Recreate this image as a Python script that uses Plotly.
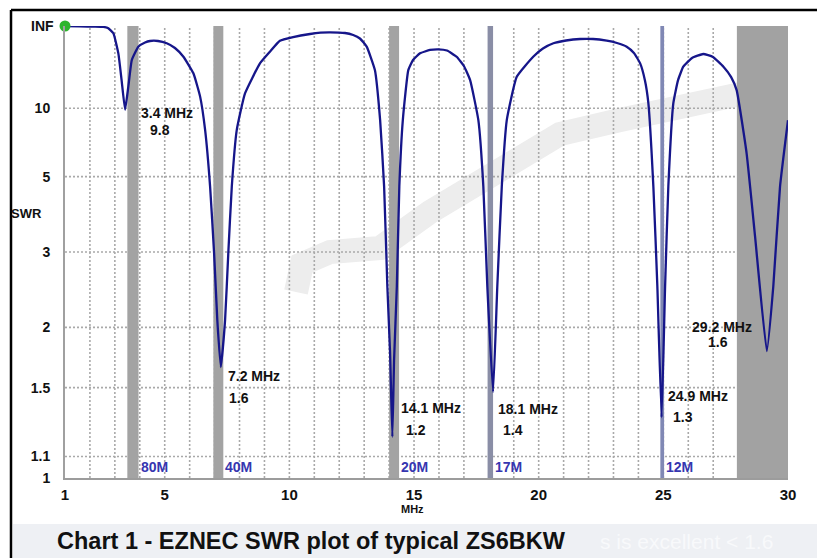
import numpy as np
import plotly.graph_objects as go

# ---------------- data ----------------
freq_mhz = [1.0, 1.6, 2.2, 2.54, 2.72, 2.94, 3.14, 3.27, 3.41, 3.54, 3.68, 3.94, 4.21,
            4.41, 4.73, 5.08, 5.41, 5.75, 6.15, 6.42, 6.62, 6.82, 6.98, 7.11, 7.25,
            7.42, 7.55, 7.69, 7.89, 8.22, 8.82, 9.22, 9.62, 10.15, 10.83, 11.25, 11.63,
            12.23, 12.56, 12.83, 13.10, 13.43, 13.64, 13.80, 13.93, 14.04, 14.13, 14.20,
            14.31, 14.41, 14.55, 14.77, 14.96, 15.24, 15.64, 15.97, 16.32, 16.71, 17.0,
            17.25, 17.58, 17.78, 17.94, 18.17, 18.34, 18.52, 18.72, 19.12, 19.78, 20.17,
            20.59, 21.10, 21.66, 22.18, 22.73, 23.14, 23.53, 23.82, 24.07, 24.26, 24.40,
            24.60, 24.76, 24.93, 25.07, 25.20, 25.40, 25.59, 25.80, 26.15, 26.60, 26.99,
            27.41, 27.72, 27.94, 28.34, 28.68, 29.15, 29.41, 29.68, 30.0]
swr = [float("inf"), 2000, 1500, 1000, 450, 123, 32, 15.7, 9.8, 13.9, 25.6, 42.7, 53.8,
       59.3, 59.3, 51.3, 40.1, 28.4, 18.1, 11.8, 7.7, 4.63, 2.98, 2.07, 1.65,
       2.07, 2.98, 4.63, 7.7, 12.4, 23.2, 34.2, 60, 80, 112, 135, 142,
       128, 99, 71.3, 42.7, 19.5, 8.6, 4.63, 2.47, 1.76, 1.2, 1.71,
       2.47, 4.63, 8.6, 19.5, 25.6, 32.1, 36.7, 37.8, 35.9, 28.4, 21.6,
       15.7, 8.6, 4.63, 2.47, 1.47, 2.47, 4.63, 8.6, 16.8, 28.4, 39.2,
       51.3, 61.3, 68.5, 68.5, 60.5, 52.2, 42.7, 32.5, 23.2, 15.7, 10.7,
       4.63, 2.47, 1.31, 2.47, 4.63, 10.7, 15.7, 21.2, 27.3, 31.3, 28.2,
       21.2, 16.7, 13.1, 6.1, 3.29, 1.78, 2.47, 4.63, 8.6]

# resonance dips and their labels
dip_freq = [3.41, 7.25, 14.13, 18.17, 24.93, 29.15]
dip_swr = [9.8, 1.65, 1.2, 1.47, 1.31, 1.78]
dip_freq_text = ["3.4 MHz", "7.2 MHz", "14.1 MHz", "18.1 MHz", "24.9 MHz", "29.2 MHz"]
dip_swr_text = ["9.8", "1.6", "1.2", "1.4", "1.3", "1.6"]

# amateur bands
band_names = ["80M", "40M", "20M", "17M", "12M", ""]
band_lo = [3.5, 6.95, 14.0, 17.95, 24.88, 27.95]
band_hi = [3.95, 7.35, 14.4, 18.17, 25.03, 30.0]

# axis ticks
swr_ticks = [1, 1.1, 1.5, 2, 3, 5, 10]
swr_tick_text = ["1", "1.1", "1.5", "2", "3", "5", "10"]
x_ticks = [1, 5, 10, 15, 20, 25, 30]
x_grid = list(range(2, 30))          # dotted grid every 1 MHz
swr_grid = [1.1, 1.5, 2, 3, 5, 10]   # dotted horizontal grid


def rho(s):
    s = np.asarray(s, dtype=float)
    return 1.0 - 2.0 / (s + 1.0)


# ---------------- styles ----------------
FONT = "Arial, Liberation Sans, sans-serif"
GRID = "#a9a9a9"
GDASH = "2px,2px"
band_colors = ["#a3a3a3", "#a3a3a3", "#a3a3a3", "#8a8ea6", "#8088b4", "#a2a2a2"]
lbl_offsets = [(14, -3, 23, -20), (5, -9, 6, -31), (7, 29, 12, 7),
               (3, -17, 8, -38), (4, 21, 9, 0), (-77, 24, -61, 9)]

# plot-area pixel frame for paper coordinates
L, R, T, B = 65, 788, 26, 478


def px(x):
    return (x - L) / (R - L)


def py(y):
    return (B - y) / (B - T)


fig = go.Figure()

# faint background watermark stroke (decoration, pixel path mapped to the axes)
wm = [(296, 292), (302, 264), (330, 252), (380, 248), (430, 212), (480, 182),
      (530, 157), (560, 134), (620, 120), (700, 100), (745, 93), (788, 88)]
fig.add_trace(go.Scatter(x=[1 + px(a) * 29 for a, _ in wm], y=[py(b) for _, b in wm],
                         mode="lines", line=dict(color="#ededed", width=24),
                         hoverinfo="skip", showlegend=False))

# grid lines (as traces so the bands can sit on top of them)
gx, gy = [], []
for v in x_grid:
    gx += [v, v, None]
    gy += [0, 1, None]
for r in rho(swr_grid):
    gx += [1, 30, None]
    gy += [float(r), float(r), None]
fig.add_trace(go.Scatter(x=gx, y=gy, mode="lines",
                         line=dict(color=GRID, width=1.6, dash=GDASH),
                         hoverinfo="skip", showlegend=False))

# band rectangles
for lo, hi, c in zip(band_lo, band_hi, band_colors):
    fig.add_trace(go.Scatter(x=[lo, hi, hi, lo, lo], y=[0, 0, 1, 1, 0], mode="lines",
                             fill="toself", fillcolor=c, line=dict(width=0, color=c),
                             hoverinfo="skip", showlegend=False))

fig.add_trace(go.Scatter(
    x=freq_mhz, y=rho(swr), mode="lines",
    line=dict(color="#16168a", width=2.3, shape="spline", smoothing=0.4),
    cliponaxis=False, hoverinfo="skip", showlegend=False))

fig.add_trace(go.Scatter(
    x=[freq_mhz[0]], y=rho([swr[0]]), mode="markers",
    marker=dict(color="#2db52d", size=11),
    cliponaxis=False, hoverinfo="skip", showlegend=False))

shapes = []
# bottom caption band (annotations are drawn above it)
shapes.append(dict(type="rect", xref="paper", yref="paper",
                   x0=px(13), x1=px(817), y0=py(558), y1=py(524),
                   fillcolor="#eef0f4", line=dict(width=0), layer="above"))
# black frame lines (top and left)
shapes.append(dict(type="line", xref="paper", yref="paper",
                   x0=px(11), x1=px(817), y0=py(10), y1=py(10),
                   line=dict(color="black", width=2.5)))
shapes.append(dict(type="line", xref="paper", yref="paper",
                   x0=px(11), x1=px(11), y0=py(10), y1=py(558),
                   line=dict(color="black", width=2.5)))

ann = []
bold = dict(family=FONT, size=14, color="#111111", weight="bold")
for f, s, t1, t2, (dx1, dy1, dx2, dy2) in zip(dip_freq, dip_swr, dip_freq_text,
                                              dip_swr_text, lbl_offsets):
    y0 = float(rho([s])[0])
    ann.append(dict(x=f, y=y0, text=t1, showarrow=False, xanchor="left",
                    yanchor="middle", xshift=dx1, yshift=dy1, font=bold))
    ann.append(dict(x=f, y=y0, text=t2, showarrow=False, xanchor="left",
                    yanchor="middle", xshift=dx2, yshift=dy2, font=bold))

for name, hi in zip(band_names, band_hi):
    if name:
        ann.append(dict(x=hi, y=0.024, text=name, showarrow=False, xanchor="left",
                        yanchor="middle", xshift=0,
                        font=dict(family=FONT, size=14, color="#3636b0", weight="bold")))

ann.append(dict(xref="paper", yref="paper", x=px(56), y=1.0, text="INF",
                showarrow=False, xanchor="right", yanchor="middle",
                font=dict(family=FONT, size=14, color="#111111", weight="bold")))
ann.append(dict(xref="paper", yref="paper", x=px(9), y=py(213), text="SWR",
                showarrow=False, xanchor="left", yanchor="middle",
                font=dict(family=FONT, size=13, color="#111111", weight="bold")))
ann.append(dict(xref="paper", yref="paper", x=px(412), y=py(509), text="MHz",
                showarrow=False, xanchor="center", yanchor="middle",
                font=dict(family=FONT, size=11, color="#111111", weight="bold")))
ann.append(dict(xref="paper", yref="paper", x=px(55), y=py(541),
                text="Chart 1 - EZNEC SWR plot of typical ZS6BKW",
                showarrow=False, xanchor="left", yanchor="middle",
                font=dict(family=FONT, size=23.5, color="#111111", weight="bold")))
ann.append(dict(xref="paper", yref="paper", x=px(598), y=py(541),
                text="s is excellent < 1.6",
                showarrow=False, xanchor="left", yanchor="middle",
                font=dict(family=FONT, size=21, color="#f8f9fb")))

fig.update_layout(
    width=817, height=558,
    margin=dict(l=L, r=817 - R, t=T, b=558 - B),
    paper_bgcolor="white", plot_bgcolor="white",
    shapes=shapes, annotations=ann, showlegend=False,
    xaxis=dict(range=[1, 30], tickvals=x_ticks, showline=True, linecolor="#9c9c9c",
               linewidth=2, showgrid=False, zeroline=False, ticks="",
               ticklabelstandoff=2,
               tickfont=dict(family=FONT, size=15, color="#111111", weight="bold")),
    yaxis=dict(range=[0, 1], tickvals=list(rho(swr_ticks)), ticktext=swr_tick_text,
               showline=True, linecolor="#a0a0a0", linewidth=2, showgrid=False,
               zeroline=False, ticks="", ticklabelstandoff=10,
               tickfont=dict(family=FONT, size=14, color="#111111", weight="bold")),
)

fig.write_html("out.html", config={"displayModeBar": False},
               post_script="document.body.style.margin='0';")
